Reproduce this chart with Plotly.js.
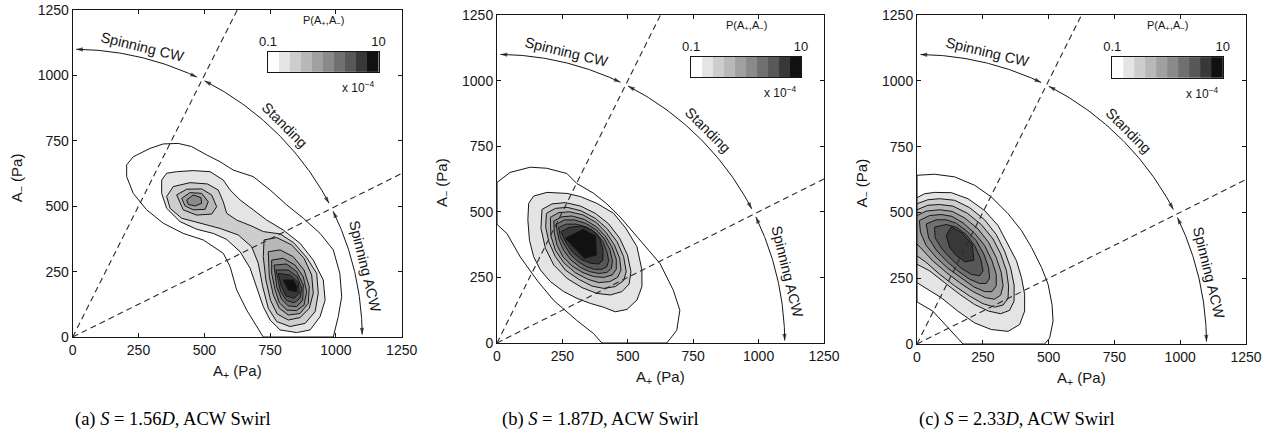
<!DOCTYPE html>
<html><head><meta charset="utf-8">
<script src="https://cdn.plot.ly/plotly-3.0.1.min.js"></script>
<style>html,body{margin:0;padding:0;background:#fff}#chart{width:1274px;height:442px}</style>
</head><body><div id="chart"></div>
<script>
// ---------- data ----------
const TICKS = [0, 250, 500, 750, 1000, 1250];
const levels = [0.1, 0.158, 0.251, 0.398, 0.631, 1.0, 1.585, 2.512, 3.981, 6.31, 10]; // P x 1e-4, band edges
const binColors = ['#ffffff','#e4e4e4','#cdcdcd','#b8b8b8','#a0a0a0','#8a8a8a','#707070','#585858','#383838','#111111'];
const captions = ['(a) <i>S</i> = 1.56<i>D</i>, ACW Swirl', '(b) <i>S</i> = 1.87<i>D</i>, ACW Swirl', '(c) <i>S</i> = 2.33<i>D</i>, ACW Swirl'];
const regimeLabels = ['Spinning CW', 'Standing', 'Spinning ACW'];
const regimeSlopes = [2, 0.5];            // dashed boundaries A-/A+ = 2 and 0.5
const arcRadius = 1100;                    // Pa
const arcSegmentsDeg = [[89.3, 64.6], [62.9, 27.7], [25.9, 0.5]];

// Panel (a) contour rings [A+, A-] (Pa)
const a1 = [[205,658],[230,689],[294,721],[344,738],[401,740],[452,728],[509,696],[560,670],[610,638],[686,613],[750,562],[813,505],[876,454],[940,396],[990,333],[1015,243],[1022,154],[1009,78],[990,0],[724,0],[661,103],[623,180],[598,269],[572,320],[496,371],[420,396],[344,435],[281,486],[230,549],[205,613]];
const a2 = [[338,600],[357,626],[395,632],[458,636],[522,632],[572,600],[598,562],[636,524],[686,486],[737,447],[800,409],[864,358],[914,294],[952,218],[959,141],[940,78],[902,27],[851,17],[788,27],[750,65],[724,116],[699,192],[674,263],[636,326],[585,373],[534,396],[471,412],[408,441],[357,492],[338,549]];
const a3 = [[357,537],[382,575],[446,590],[512,585],[553,562],[572,517],[585,473],[623,447],[680,424],[724,403],[788,394],[840,360],[888,305],[927,243],[933,167],[921,97],[883,52],[826,40],[775,59],[743,110],[722,192],[705,282],[680,345],[629,390],[560,415],[484,435],[414,454],[370,492]];
const a4u = [[395,543],[433,565],[490,566],[528,543],[547,498],[528,470],[471,466],[420,486]];
const a5u = [[414,530],[446,552],[490,549],[515,517],[503,488],[458,486],[427,501]];
const a6u = [[433,524],[458,543],[487,533],[490,511],[465,501],[439,507]];
const a4l = [[727,371],[775,380],[832,352],[879,301],[908,237],[914,167],[899,110],[864,74],[819,65],[777,88],[752,139],[734,218],[724,307]];
const a5l = [[743,326],[788,333],[838,307],[879,256],[899,192],[895,129],[864,90],[819,84],[785,110],[762,161],[747,231]];
const a6l = [[756,294],[800,301],[845,275],[876,231],[889,173],[879,122],[851,101],[813,103],[785,131],[769,180],[756,243]];
const a7l = [[765,275],[813,279],[851,250],[876,199],[874,141],[851,116],[819,119],[794,144],[775,192]];
const a8l = [[772,256],[819,256],[853,231],[870,186],[864,148],[841,131],[813,139],[790,173]];
const a9l = [[781,243],[826,237],[857,208],[861,167],[841,148],[810,157],[793,192]];
const a10l = [[800,218],[838,218],[852,193],[851,173],[819,180]];

// Panel (b)
const b1 = [[0,612],[50,650],[127,670],[190,666],[267,646],[305,608],[370,570],[420,530],[470,481],[547,392],[623,303],[674,201],[699,125],[687,48],[649,0],[401,0],[369,36],[305,86],[216,163],[153,239],[89,328],[38,417],[0,452]];
const b2 = [[121,532],[140,560],[191,574],[268,570],[319,558],[382,532],[446,494],[492,438],[535,367],[554,278],[554,215],[535,164],[497,128],[452,119],[408,136],[357,151],[306,170],[255,196],[204,234],[166,278],[140,329],[124,392],[118,469]];
const b3 = [[172,509],[210,530],[261,535],[319,522],[376,494],[427,454],[469,399],[499,335],[512,272],[505,225],[478,196],[433,183],[382,189],[325,211],[268,246],[217,297],[185,361],[168,437]];
const b4 = [[189,494],[223,513],[268,517],[321,504],[376,475],[420,437],[459,386],[484,329],[494,272],[484,238],[452,215],[408,208],[363,217],[312,243],[261,278],[223,329],[198,386],[186,443]];
const b5 = [[204,479],[236,497],[278,500],[329,488],[380,459],[418,420],[449,373],[469,323],[474,278],[461,250],[431,234],[389,230],[347,243],[299,268],[255,306],[223,354],[206,408]];
const b6 = [[217,465],[248,481],[287,484],[334,471],[380,443],[414,408],[440,365],[456,319],[456,281],[440,259],[408,250],[370,253],[329,268],[287,293],[252,329],[229,374],[219,420]];
const b7 = [[227,452],[257,469],[296,469],[339,456],[380,431],[410,398],[431,357],[441,316],[438,285],[420,269],[389,265],[354,272],[319,288],[283,316],[255,352],[237,393],[229,431]];
const b8 = [[236,440],[265,453],[303,453],[344,441],[380,418],[405,386],[420,348],[427,314],[420,291],[401,281],[372,281],[341,291],[311,310],[283,335],[260,370],[242,405]];
const b9 = [[245,424],[274,440],[319,446],[363,431],[392,399],[405,357],[405,316],[389,301],[357,304],[321,319],[291,344],[265,380]];
const b10 = [[261,399],[329,433],[377,408],[380,335],[334,323]];

// Panel (c)
const c1 = [[0,641],[67,645],[143,635],[219,603],[282,559],[346,495],[397,431],[435,367],[473,291],[498,227],[513,150],[517,87],[504,23],[485,0],[175,0],[120,60],[60,125],[0,160]];
const c2 = [[0,556],[29,571],[67,576],[130,575],[194,552],[257,507],[308,450],[346,380],[378,316],[397,252],[409,189],[409,125],[390,74],[346,48],[282,55],[219,80],[155,125],[92,176],[41,208],[0,233]];
const c3 = [[0,533],[41,548],[86,552],[143,546],[200,518],[257,472],[301,416],[333,352],[356,288],[369,224],[369,163],[352,128],[318,115],[272,125],[219,150],[162,189],[105,233],[48,278],[0,303]];
const c4 = [[0,510],[41,527],[86,530],[136,524],[191,497],[244,454],[289,399],[318,342],[340,278],[348,221],[346,173],[327,148],[295,140],[251,153],[200,182],[143,221],[86,265],[35,310],[0,335]];
const c5 = [[0,488],[35,505],[86,510],[133,504],[181,479],[232,437],[272,386],[301,329],[320,272],[327,221],[318,186],[295,170],[260,176],[213,199],[162,233],[111,272],[60,316],[16,361],[0,380]];
const c6 = [[9,469],[48,488],[92,492],[133,485],[175,460],[219,421],[257,374],[285,316],[301,265],[301,221],[285,199],[257,199],[216,217],[168,250],[117,288],[73,329],[35,374],[13,425]];
const c7 = [[35,456],[73,472],[111,472],[149,459],[187,431],[225,393],[254,342],[272,291],[276,250],[263,230],[238,230],[200,246],[155,278],[111,316],[73,357],[44,403]];
const c8 = [[67,444],[111,454],[149,444],[187,416],[219,374],[242,323],[251,278],[238,259],[206,265],[168,288],[130,323],[95,361],[69,403]];
const c9 = [[111,412],[130,445],[172,422],[210,378],[216,318],[183,312],[150,335],[124,367]];

// band index (1 = outermost contour) for each ring
const panelRings = [
  [[1,a1],[2,a2],[3,a3],[4,a4u],[5,a5u],[6,a6u],[4,a4l],[5,a5l],[6,a6l],[7,a7l],[8,a8l],[9,a9l],[10,a10l]],
  [[1,b1],[2,b2],[3,b3],[4,b4],[5,b5],[6,b6],[7,b7],[8,b8],[9,b9],[10,b10]],
  [[1,c1],[2,c2],[3,c3],[4,c4],[5,c5],[6,c6],[7,c7],[8,c8],[9,c9]]
];

// ---------- layout geometry (pixels) ----------
const W = 1274, H = 442;
const BOX = [ {l:72.7, r:401.7, t:10, b:337}, {l:497, r:824, t:15, b:343}, {l:917, r:1246, t:15, b:344} ];
const CAPTION_LEFT = [73, 500, 917];
const FONT = 'Liberation Sans, Arial, Helvetica, sans-serif';
const INK = '#161616';
const px2x = p => p / W, px2y = p => 1 - p / H;

const traces = [], annotations = [], layout = {
  width: W, height: H, margin: {l:0, r:0, t:0, b:0},
  paper_bgcolor: '#fff', plot_bgcolor: '#fff', showlegend: false, hovermode: false,
  annotations: annotations
};

const labelR = 1142, labelAngles = [76.5, 45.2, 13.7], labelRot = [13.5, 45, 76.3];

BOX.forEach((bx, i) => {
  const s = i === 0 ? '' : String(i + 1);
  const xa = 'x' + s, ya = 'y' + s;
  const axBase = {
    range: [0, 1250], tickvals: TICKS, ticks: 'inside', ticklen: 4, tickwidth: 1, tickcolor: INK,
    showline: true, linecolor: INK, linewidth: 1, mirror: 'ticks', showgrid: false, zeroline: false,
    tickfont: {family: FONT, size: 14, color: INK}, fixedrange: true
  };
  layout['xaxis' + s] = Object.assign({}, axBase, {domain: [px2x(bx.l), px2x(bx.r)], anchor: ya});
  layout['yaxis' + s] = Object.assign({}, axBase, {domain: [px2y(bx.b), px2y(bx.t)], anchor: xa});

  // contour rings
  panelRings[i].forEach(([band, pts]) => {
    const xs = pts.map(p => p[0]).concat([pts[0][0]]);
    const ys = pts.map(p => p[1]).concat([pts[0][1]]);
    traces.push({type: 'scatter', mode: 'lines', x: xs, y: ys, xaxis: xa, yaxis: ya,
      fill: 'toself', fillcolor: binColors[band - 1], line: {color: INK, width: 1}, hoverinfo: 'skip'});
  });

  // dashed regime boundaries
  regimeSlopes.forEach(m => {
    const xe = m >= 1 ? 1250 / m : 1250, ye = m >= 1 ? 1250 : 1250 * m;
    traces.push({type: 'scatter', mode: 'lines', x: [0, xe], y: [0, ye], xaxis: xa, yaxis: ya,
      line: {color: '#2a2a2a', width: 1.1, dash: '6px,4px'}, hoverinfo: 'skip'});
  });

  // arcs with arrowheads at both ends
  arcSegmentsDeg.forEach(([d0, d1]) => {
    const xs = [], ys = [], n = 60;
    for (let k = 0; k <= n; k++) {
      const a = (d0 + (d1 - d0) * k / n) * Math.PI / 180;
      xs.push(arcRadius * Math.cos(a)); ys.push(arcRadius * Math.sin(a));
    }
    traces.push({type: 'scatter', mode: 'lines', x: xs, y: ys, xaxis: xa, yaxis: ya,
      line: {color: INK, width: 1}, hoverinfo: 'skip'});
    const dir = d1 > d0 ? 1 : -1;
    [[d0, d0 + dir * 3], [d1, d1 - dir * 3]].forEach(([tip, tail]) => {
      const t = tip * Math.PI / 180, u = tail * Math.PI / 180;
      traces.push({type: 'scatter', mode: 'markers', xaxis: xa, yaxis: ya, hoverinfo: 'skip', cliponaxis: false,
        x: [arcRadius * Math.cos(u), arcRadius * Math.cos(t)], y: [arcRadius * Math.sin(u), arcRadius * Math.sin(t)],
        marker: {symbol: 'arrow', angleref: 'previous', size: [0, 7], color: INK, line: {width: 0}}});
    });
  });

  // regime labels
  regimeLabels.forEach((t, k) => {
    const a = labelAngles[k] * Math.PI / 180;
    annotations.push({xref: xa, yref: ya, x: labelR * Math.cos(a), y: labelR * Math.sin(a),
      xanchor: 'center', yanchor: 'middle',
      text: t, showarrow: false, textangle: labelRot[k], font: {family: FONT, size: 14.5, color: INK}});
  });

  // axis titles
  const cx = (bx.l + bx.r) / 2, cy = (bx.t + bx.b) / 2;
  annotations.push({xref: 'paper', yref: 'paper', x: px2x(cx), y: px2y(bx.b + 34), text: 'A<sub>+</sub> (Pa)',
    showarrow: false, font: {family: FONT, size: 15, color: INK}, xanchor: 'center', yanchor: 'middle'});
  annotations.push({xref: 'paper', yref: 'paper', x: px2x(bx.l - 55), y: px2y(cy + 4), text: 'A<sub>−</sub> (Pa)',
    showarrow: false, textangle: -90, font: {family: FONT, size: 15, color: INK}, xanchor: 'center', yanchor: 'middle'});

  // caption
  annotations.push({xref: 'paper', yref: 'paper', x: px2x(CAPTION_LEFT[i]), y: px2y(419), text: captions[i],
    showarrow: false, font: {family: 'Liberation Serif, DejaVu Serif, serif', size: 18.5, color: '#000'},
    xanchor: 'left', yanchor: 'middle'});

  // inset colour scale
  const bl = bx.l + (bx.r - bx.l) * 742 / 1250, br = bx.l + (bx.r - bx.l) * 1162 / 1250;
  const bt = bx.b - (bx.b - bx.t) * 1090 / 1250, bb = bx.b - (bx.b - bx.t) * 1012 / 1250;
  const cs = 'x' + (i + 4), csy = 'y' + (i + 4);
  layout['xaxis' + (i + 4)] = {domain: [px2x(bl), px2x(br)], anchor: csy, type: 'log', range: [-1, 1],
    side: 'top', tickvals: [0.1, 10], ticktext: ['0.1', '10'], ticks: '', showline: true, mirror: true,
    linecolor: INK, linewidth: 1, showgrid: false, zeroline: false,
    tickfont: {family: FONT, size: 13, color: INK}, fixedrange: true};
  layout['yaxis' + (i + 4)] = {domain: [px2y(bb), px2y(bt)], anchor: cs, range: [0, 1], showticklabels: false,
    ticks: '', showline: true, mirror: true, linecolor: INK, linewidth: 1, showgrid: false, zeroline: false, fixedrange: true};
  const scale = [];
  binColors.forEach((c, k) => { scale.push([k / 10, c]); scale.push([(k + 1) / 10, c]); });
  traces.push({type: 'heatmap', x: levels, y: [0, 1], z: [binColors.map((c, k) => k)], zmin: -0.5, zmax: 9.5,
    colorscale: scale, showscale: false, xaxis: cs, yaxis: csy, hoverinfo: 'skip'});
  annotations.push({xref: 'paper', yref: 'paper', x: px2x((bl + br) / 2), y: px2y(bt - 31),
    xanchor: 'center', yanchor: 'middle',
    text: 'P(A<sub>+</sub>,A<sub>−</sub>)', showarrow: false, font: {family: FONT, size: 11, color: INK}});
  annotations.push({xref: 'paper', yref: 'paper', x: px2x(br - 20), y: px2y(bb + 15),
    xanchor: 'center', yanchor: 'middle',
    text: 'x 10<sup>−4</sup>', showarrow: false, font: {family: FONT, size: 12, color: INK}});
});

Plotly.newPlot('chart', traces, layout, {staticPlot: true, displayModeBar: false});
</script></body></html>
